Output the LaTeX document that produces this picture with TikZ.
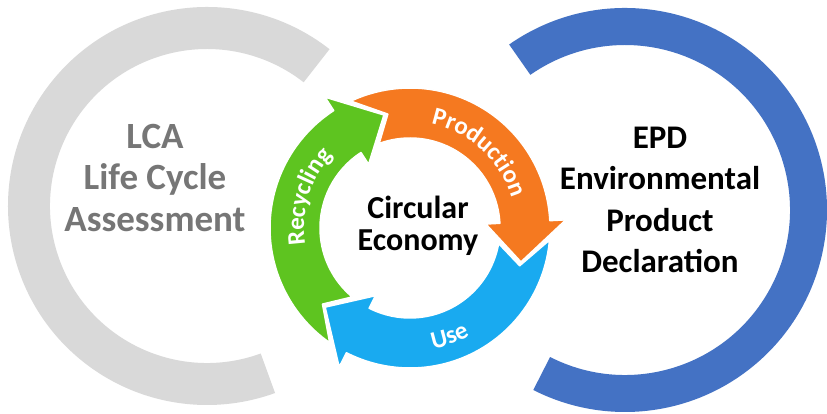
\documentclass[tikz,border=0pt]{standalone}
\usepackage{fontspec}
\setmainfont{Carlito}
\usetikzlibrary{decorations.text}

\definecolor{lcagray}{RGB}{217,217,217}
\definecolor{lcatext}{RGB}{118,118,118}
\definecolor{epdblue}{RGB}{68,114,196}
\definecolor{prodorange}{RGB}{245,121,32}
\definecolor{usecyan}{RGB}{25,170,240}
\definecolor{recygreen}{RGB}{94,196,32}

\newcommand\arrowfont{\bfseries\fontsize{25}{25}\selectfont}

\begin{document}
\begin{tikzpicture}[x=1pt,y=1pt,
    bigtext/.style={font=\bfseries\fontsize{#1}{41.5}\selectfont, align=center},
    onarrow/.style={decorate, decoration={text along path, text align=center,
        text color=white, text={|\arrowfont|#1}}}]
    \useasboundingbox (0,0) rectangle (827,414);
    \fill[white] (0,0) rectangle (827,414);

    % left half ring (LCA)
    \begin{scope}[shift={(207,208)}]
        \fill[lcagray] (52:199) arc[start angle=52, end angle=290, radius=199]
            -- (290:157) arc[start angle=290, end angle=52, radius=157] -- cycle;
    \end{scope}

    % right half ring (EPD)
    \begin{scope}[shift={(625,204)}]
        \fill[epdblue] (125:202) arc[start angle=125, end angle=-117, radius=202]
            -- (-117:165) arc[start angle=-117, end angle=125, radius=165] -- cycle;
    \end{scope}

    % the cycle in the middle
    \begin{scope}[shift={(410,186)}]
        \foreach \col/\a in {recygreen/-128, prodorange/112, usecyan/-8}{
            \filldraw[fill=\col, draw=white, line width=1.5pt, line join=round]
                ({\a+3}:140) arc[start angle=\a+3, end angle=\a-109, radius=140]
                -- ({\a-109}:156) -- ({\a-129}:116) -- ({\a-109}:76) -- ({\a-109}:90)
                arc[start angle=\a-109, end angle=\a-2, radius=90]
                -- ({\a-11}:116) -- cycle;
        }
        \path[onarrow=Production] (100:106) arc[start angle=100, end angle=-5, radius=106];
        \path[onarrow=Recycling] (213:106) arc[start angle=213, end angle=113, radius=106];
        \path[onarrow=Use] (-110:123) arc[start angle=-110, end angle=-30, radius=123];
    \end{scope}

    \node[bigtext=37, lcatext] (lca) at (155,236) {LCA\\Life Cycle\\Assessment};
    \node[bigtext=33] (epd) at (660,214) {EPD\\Environmental\\Product\\Declaration};
    \node[font=\bfseries\fontsize{32}{32}\selectfont, align=center] (ce) at (418,188) {Circular\\Economy};
\end{tikzpicture}
\end{document}
